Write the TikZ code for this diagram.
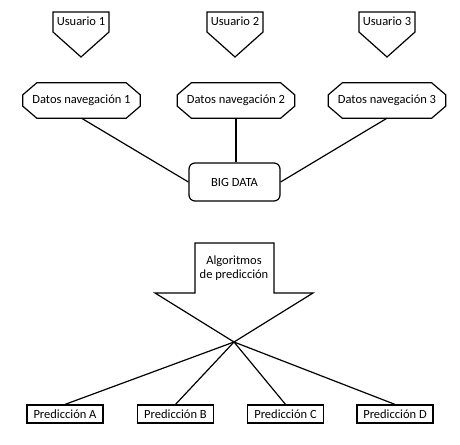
\documentclass[tikz,border=0pt]{standalone}
\usepackage{fontspec}
\setmainfont{Carlito}
\usetikzlibrary{calc}
\begin{document}
\begin{tikzpicture}[x=1pt,y=-1pt,
  every node/.style={font=\fontsize{12.5}{14}\selectfont, inner sep=0pt},
  ln/.style={line width=1.2pt, line join=miter},
  datos/.style={minimum width=117pt, minimum height=35pt},
  bigbox/.style={draw, ln, rounded corners=6pt, minimum width=91pt, minimum height=38pt},
  pred/.style={draw, ln, minimum width=76pt, minimum height=18pt},
  lbl/.style={align=center}
]
\useasboundingbox (0,0) rectangle (460,444);
% Usuarios
\foreach \n/\x in {1/81,2/235,3/387}{
  \draw[ln] (\x-28,12) -- (\x+28,12) -- (\x+28,32) -- (\x,57) -- (\x-28,32) -- cycle;
  \node[lbl] (u\n) at (\x,21) {Usuario \n};
}
% Datos
\node[datos] (d1) at (81.5,100.5) {Datos navegación 1};
\node[datos] (d2) at (236,100.5) {Datos navegación 2};
\node[datos] (d3) at (387,100.5) {Datos navegación 3};
\foreach \d in {d1,d2,d3}{
  \draw[ln] ($(\d.north west)+(14,0)$) -- ($(\d.north east)+(-14,0)$)
    -- ($(\d.north east)+(0,12)$) -- ($(\d.south east)+(0,-12)$)
    -- ($(\d.south east)+(-14,0)$) -- ($(\d.south west)+(14,0)$)
    -- ($(\d.south west)+(0,-12)$) -- ($(\d.north west)+(0,12)$) -- cycle;
}
% Big data
\node[bigbox] (big) at (234.5,182) {BIG DATA};
\draw[ln] (d1.south) -- (big.west);
\draw[ln] (d2.south) -- (big.north -| d2.south);
\draw[ln] (d3.south) -- (big.east);
% Arrow
\coordinate (tip) at (234,342);
\draw[ln] (195,243) -- (274,243) -- (274,293) -- (313,293) -- (tip) -- (155,293) -- (195,293) -- cycle;
\node[lbl] (alg) at (234,268) {Algoritmos\\de predicción};
% Predicciones
\node[pred] (pA) at (65,414) {Predicción A};
\node[pred] (pB) at (175.5,414) {Predicción B};
\node[pred] (pC) at (285.5,414) {Predicción C};
\node[pred] (pD) at (395,414) {Predicción D};
\foreach \p in {pA,pB,pC,pD}{
  \draw[ln] (tip) -- (\p.north);
}
\end{tikzpicture}
\end{document}
